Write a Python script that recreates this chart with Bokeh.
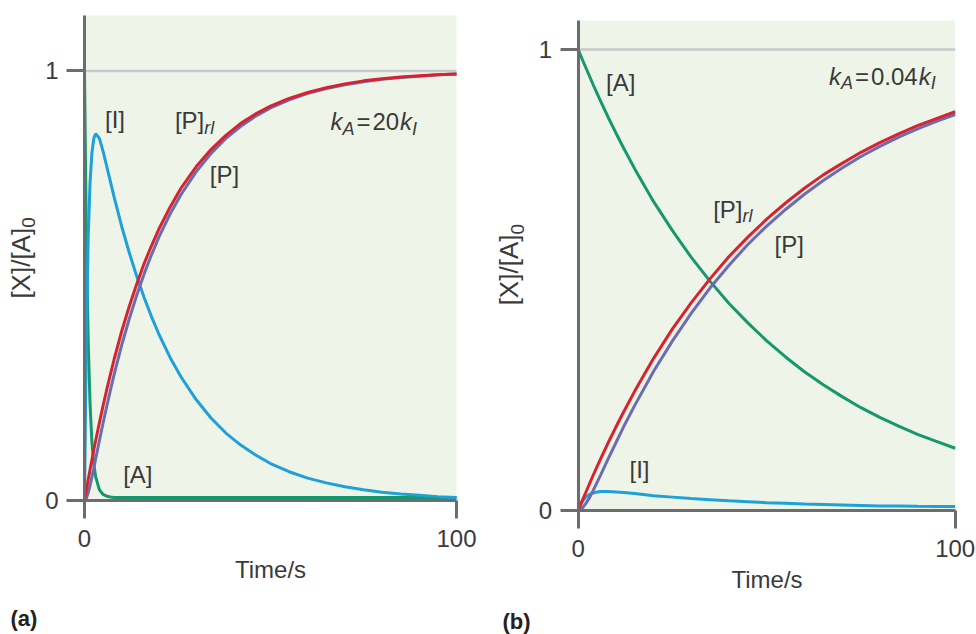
import math
from bokeh.plotting import figure
from bokeh.layouts import row
from bokeh.models import Label, FixedTicker, Range1d, BoxAnnotation
from bokeh.embed import file_html
from bokeh.resources import INLINE

# ---------------- data ----------------
# Panel (a): k_A = 20 k_I
TIME_A = [0, 0.5, 1, 1.5, 2, 2.5, 3, 4, 5, 6, 7, 8, 10, 12, 14, 16, 18, 20, 23, 26,
          30, 34, 38, 42, 46, 50, 55, 60, 65, 70, 75, 80, 85, 90, 95, 100]
A_A = [1.000, 0.607, 0.368, 0.223, 0.135, 0.085, 0.055, 0.025, 0.014, 0.010, 0.008, 0.007,
       0.007, 0.007, 0.007, 0.007, 0.007, 0.007, 0.007, 0.007, 0.007, 0.007, 0.007, 0.007,
       0.007, 0.007, 0.007, 0.007, 0.007, 0.007, 0.007, 0.007, 0.007, 0.007, 0.007, 0.007]
I_A = [0.000, 0.388, 0.614, 0.742, 0.810, 0.843, 0.854, 0.843, 0.813, 0.777, 0.741, 0.705,
       0.638, 0.578, 0.523, 0.473, 0.428, 0.387, 0.333, 0.287, 0.235, 0.192, 0.157, 0.129,
       0.106, 0.086, 0.067, 0.052, 0.041, 0.032, 0.025, 0.019, 0.015, 0.012, 0.009, 0.007]
P_A = [0.000, 0.005, 0.018, 0.035, 0.055, 0.075, 0.097, 0.139, 0.181, 0.220, 0.258, 0.295,
       0.362, 0.422, 0.477, 0.527, 0.572, 0.613, 0.667, 0.713, 0.765, 0.808, 0.843, 0.871,
       0.895, 0.914, 0.933, 0.948, 0.959, 0.968, 0.975, 0.981, 0.985, 0.988, 0.991, 0.993]
PRL_A = [0.000, 0.025, 0.049, 0.072, 0.095, 0.118, 0.139, 0.181, 0.221, 0.259, 0.295, 0.330,
         0.394, 0.451, 0.503, 0.551, 0.593, 0.632, 0.683, 0.728, 0.777, 0.817, 0.850, 0.878,
         0.900, 0.918, 0.936, 0.950, 0.961, 0.970, 0.977, 0.982, 0.986, 0.989, 0.991, 0.993]

# Panel (b): k_A = 0.04 k_I
TIME_B = [0, 1, 2, 3, 4, 5, 6, 8, 10, 12, 15, 20, 25, 30, 35, 40, 45, 50, 55, 60,
          65, 70, 75, 80, 85, 90, 95, 100]
A_B = [1.000, 0.980, 0.961, 0.942, 0.923, 0.905, 0.887, 0.852, 0.819, 0.787, 0.741, 0.670,
       0.607, 0.549, 0.497, 0.449, 0.407, 0.368, 0.333, 0.301, 0.273, 0.247, 0.223, 0.202,
       0.183, 0.165, 0.150, 0.135]
I_B = [0.000, 0.019, 0.029, 0.035, 0.038, 0.040, 0.041, 0.041, 0.040, 0.039, 0.037, 0.032,
       0.029, 0.026, 0.0235, 0.021, 0.019, 0.017, 0.0155, 0.014, 0.013, 0.012, 0.011, 0.010,
       0.0095, 0.009, 0.0088, 0.0085]
P_B = [0.000, 0.004, 0.015, 0.028, 0.044, 0.061, 0.078, 0.113, 0.147, 0.181, 0.228, 0.302,
       0.368, 0.428, 0.483, 0.532, 0.577, 0.617, 0.653, 0.686, 0.716, 0.743, 0.768, 0.790,
       0.810, 0.828, 0.844, 0.859]
PRL_B = [0.000, 0.020, 0.039, 0.058, 0.077, 0.095, 0.113, 0.148, 0.181, 0.213, 0.259, 0.330,
         0.394, 0.451, 0.503, 0.551, 0.593, 0.632, 0.667, 0.699, 0.728, 0.753, 0.777, 0.798,
         0.817, 0.835, 0.850, 0.865]

X_TICKS = [0, 100]
Y_TICKS = [0, 1]
REF_LEVEL = [1, 1]
X_LABEL = "Time/s"

# ---------------- style ----------------
FONT = "Liberation Sans"
TXT = "#3a3a3a"
AX = "#6d6d70"
BG = "#eef5e8"
REF = "#c8c8cc"
GREEN = "#16976c"
BLUE = "#1ea0d8"
RED = "#d8222f"
PURPLE = "#6a6db0"
FS = 24
SUB = 18
YFS = 26
YSUB = 19
LIFT = 8  # baseline correction in px

W = {'[': 0.278, ']': 0.278, 'P': 0.667, 'A': 0.667, 'I': 0.278, 'X': 0.667, '/': 0.278,
     '=': 0.584, '.': 0.278, 'k': 0.5, 'r': 0.333, 'l': 0.222}


def tw(s, size):
    return sum(W.get(c, 0.556) for c in s) * size


def rich(p, x, y, parts):
    off = 0.0
    for part in parts:
        txt, size, italic, dy = part[:4]
        gap = part[4] if len(part) > 4 else 0
        off += gap
        p.add_layout(Label(x=x, y=y, x_offset=off, y_offset=LIFT * size / FS - dy, text=txt,
                           text_font=FONT, text_font_size=f"{size}px",
                           text_font_style="italic" if italic else "normal",
                           text_color=TXT, text_baseline="alphabetic", text_align="left"))
        off += tw(txt, size)


def ylab(p, x, y, dx_sub):
    main = "[X]/[A]"
    p.add_layout(Label(x=x, y=y, text=main, angle=math.pi / 2, text_font=FONT,
                       text_font_size=f"{YFS}px", text_color=TXT,
                       text_baseline="alphabetic", text_align="left"))
    p.add_layout(Label(x=x, y=y, x_offset=dx_sub, y_offset=tw(main, YFS), text="0",
                       angle=math.pi / 2, text_font=FONT, text_font_size=f"{YSUB}px",
                       text_color=TXT, text_baseline="alphabetic", text_align="left"))


def make(width, height, xr, yr, green_top):
    p = figure(width=width, height=height, x_range=Range1d(*xr), y_range=Range1d(*yr),
               title=None, output_backend="svg", toolbar_location=None, min_border=0)
    p.background_fill_color = "white"
    p.border_fill_color = "white"
    p.outline_line_color = None
    p.xgrid.visible = False
    p.ygrid.visible = False
    p.add_layout(BoxAnnotation(left=X_TICKS[0], right=X_TICKS[-1], bottom=Y_TICKS[0],
                               top=green_top, fill_color=BG, fill_alpha=1.0,
                               line_color=None, level="underlay"))
    for ax in (p.xaxis[0], p.yaxis[0]):
        ax.fixed_location = 0
        ax.axis_line_color = AX
        ax.axis_line_width = 3
        ax.major_tick_line_color = AX
        ax.major_tick_line_width = 3
        ax.major_tick_out = 18
        ax.major_tick_in = 0
        ax.minor_tick_line_color = None
        ax.major_label_text_font = FONT
        ax.major_label_text_font_size = f"{FS}px"
        ax.major_label_text_color = TXT
        ax.major_label_standoff = 8
    p.xaxis.major_label_standoff = 12
    p.xaxis.bounds = (X_TICKS[0], X_TICKS[-1])
    p.yaxis.bounds = (Y_TICKS[0], green_top)
    p.xaxis.ticker = FixedTicker(ticks=X_TICKS)
    p.yaxis.ticker = FixedTicker(ticks=Y_TICKS)
    p.xaxis.axis_label = X_LABEL
    p.xaxis.axis_label_text_font = FONT
    p.xaxis.axis_label_text_font_size = f"{FS}px"
    p.xaxis.axis_label_text_font_style = "normal"
    p.xaxis.axis_label_text_color = TXT
    p.xaxis.axis_label_standoff = 5
    p.line(X_TICKS, REF_LEVEL, line_color=REF, line_width=2.5)
    return p


def curves(p, t, a, i, pp, prl):
    p.line(t, a, line_width=3, line_color=GREEN)
    p.line(t, i, line_width=3, line_color=BLUE)
    p.line(t, pp, line_width=3, line_color=PURPLE)
    p.line(t, prl, line_width=3, line_color=RED)


# ---------------- panel (a) ----------------
pa = make(480, 634, (-22.58, 106.45), (-0.312, 1.1641), 1.129)
curves(pa, TIME_A, A_A, I_A, P_A, PRL_A)
rich(pa, 5.5, 0.869, [("[I]", FS, False, 0)])
rich(pa, 24.3, 0.865, [("[P]", FS, False, 0), ("rl", SUB, True, 5)])
rich(pa, 33.7, 0.741, [("[P]", FS, False, 0)])
rich(pa, 10.4, 0.043, [("[A]", FS, False, 0)])
rich(pa, 66.1, 0.863, [("k", FS, True, 0), ("A", SUB, True, 5), ("=", FS, False, 0, 2),
                       ("20", FS, False, 0, 2), ("k", FS, True, 0, 1), ("I", SUB, True, 5)])
ylab(pa, -17.2, 0.470, 8)
pa.add_layout(Label(x=-19.9, y=-0.292, y_offset=LIFT * 22 / FS, text="(a)", text_font=FONT,
                    text_font_size="22px", text_font_style="bold", text_color="#222222",
                    text_baseline="alphabetic", text_align="left"))

# ---------------- panel (b) ----------------
pb = make(496, 634, (-25.92, 105.65), (-0.269, 1.1063), 1.063)
curves(pb, TIME_B, A_B, I_B, P_B, PRL_B)
rich(pb, 7.4, 0.911, [("[A]", FS, False, 0)])
rich(pb, 35.8, 0.636, [("[P]", FS, False, 0), ("rl", SUB, True, 5)])
rich(pb, 52.1, 0.560, [("[P]", FS, False, 0)])
rich(pb, 13.6, 0.072, [("[I]", FS, False, 0)])
rich(pb, 66.5, 0.925, [("k", FS, True, 0), ("A", SUB, True, 5), ("=", FS, False, 0, 2),
                       ("0.04", FS, False, 0, 2), ("k", FS, True, 0, 1), ("I", SUB, True, 5)])
ylab(pb, -18.3, 0.445, 8)
pb.add_layout(Label(x=-20.1, y=-0.257, y_offset=LIFT * 22 / FS, text="(b)", text_font=FONT,
                    text_font_size="22px", text_font_style="bold", text_color="#222222",
                    text_baseline="alphabetic", text_align="left"))

layout = row(pa, pb)
open("out.html", "w").write(file_html(layout, INLINE))
